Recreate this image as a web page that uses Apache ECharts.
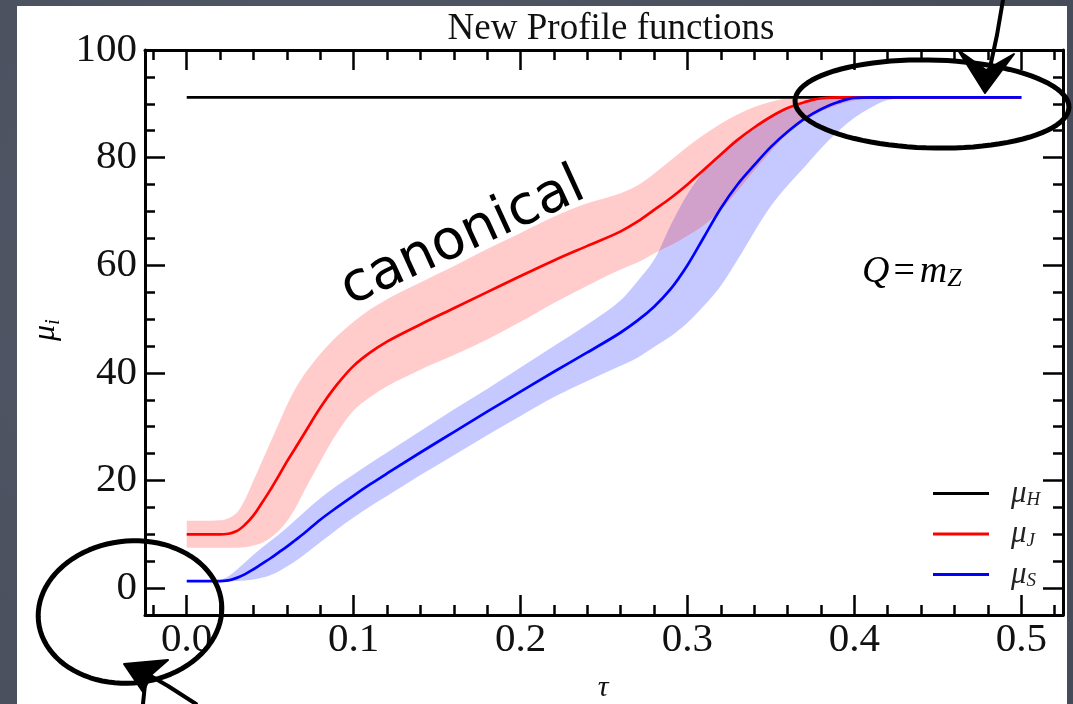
<!DOCTYPE html>
<html>
<head>
<meta charset="utf-8">
<script src="https://cdn.jsdelivr.net/npm/echarts@6/dist/echarts.min.js"></script>
<style>
  html, body { margin: 0; padding: 0; width: 1073px; height: 704px; overflow: hidden;
    background: radial-gradient(circle at 30% 40%, #535a69 0%, #4a505e 60%, #454b58 100%); }
  #sheet { position: absolute; left: 17px; top: 6px; width: 1050px; height: 698px; background: #fff; }
  #chart { position: absolute; left: 0; top: 0; width: 1073px; height: 704px; }
</style>
</head>
<body>
<div id="sheet"></div>
<div id="chart"></div>
<script>
// Profile scales mu_i(tau) at Q = m_Z: central curves with their variation bands.

// mu_H : hard scale, constant
const tauHard = [0, 0.5];
const muHard = [91.19, 91.19];

// mu_J : jet scale (band lower edge, central curve, band upper edge)
const tauJet = [0, 0.01, 0.02, 0.025, 0.03, 0.035, 0.04, 0.045, 0.05, 0.055, 0.06, 0.065, 0.07, 0.08, 0.09,
  0.1, 0.11, 0.12, 0.14, 0.16, 0.18, 0.2, 0.22, 0.24, 0.26, 0.27, 0.28, 0.29, 0.3, 0.31, 0.32, 0.33,
  0.34, 0.35, 0.36, 0.37, 0.38, 0.39, 0.4, 0.41, 0.42, 0.5];
const jetLow = [7.5, 7.5, 7.5, 7.5, 7.5, 7.6, 7.9, 8.4, 9.3, 10.6, 12.4, 14.8, 17.8, 23.5, 28.8,
  33.0, 35.5, 37.5, 40.6, 43.3, 46.2, 49.5, 53.0, 56.2, 59.2, 60.5, 62.2, 63.7, 65.5, 67.5, 70.3, 73.8,
  77.6, 81.2, 84.5, 86.8, 88.6, 89.8, 90.6, 91.1, 91.19, 91.19];
const jetMid = [10.0, 10.0, 10.0, 10.1, 10.6, 11.8, 13.5, 15.8, 18.2, 20.8, 23.5, 26.0, 28.5, 33.5, 37.8,
  41.3, 43.8, 45.8, 49.0, 52.0, 55.0, 58.0, 60.9, 63.6, 66.3, 68.1, 70.3, 72.5, 75.0, 77.8, 80.6, 83.3,
  85.6, 87.6, 89.2, 90.3, 91.0, 91.19, 91.19, 91.19, 91.19, 91.19];
const jetHigh = [12.5, 12.5, 12.6, 13.0, 14.0, 16.5, 20.0, 23.5, 27.0, 30.5, 34.0, 37.0, 39.5, 43.5, 46.8,
  49.5, 51.8, 53.7, 56.8, 59.8, 63.0, 66.0, 69.0, 71.5, 73.4, 74.8, 77.0, 79.5, 82.0, 84.3, 86.3, 88.0,
  89.4, 90.4, 91.0, 91.19, 91.19, 91.19, 91.19, 91.19, 91.19, 91.19];

// mu_S : soft scale
const tauSoft = [0, 0.01, 0.02, 0.025, 0.03, 0.035, 0.04, 0.045, 0.05, 0.055, 0.06, 0.065, 0.07, 0.08, 0.09,
  0.1, 0.11, 0.12, 0.14, 0.16, 0.18, 0.2, 0.22, 0.24, 0.26, 0.27, 0.28, 0.29, 0.3, 0.31, 0.32, 0.33,
  0.34, 0.35, 0.36, 0.37, 0.38, 0.39, 0.4, 0.41, 0.42, 0.43, 0.44, 0.5];
const softLow = [1.3, 1.3, 1.3, 1.3, 1.3, 1.4, 1.6, 1.9, 2.4, 3.1, 4.0, 5.0, 6.1, 8.5, 10.9,
  13.1, 15.2, 17.1, 21.0, 24.7, 28.4, 32.0, 35.5, 38.5, 41.3, 42.8, 44.8, 46.8, 49.3, 52.5, 56.2, 61.0,
  66.2, 71.0, 74.8, 78.2, 81.7, 84.8, 87.4, 89.3, 90.7, 91.1, 91.19, 91.19];
const softMid = [1.3, 1.3, 1.3, 1.45, 1.9, 2.6, 3.5, 4.5, 5.5, 6.6, 7.7, 8.9, 10.1, 12.7, 15.0,
  17.2, 19.3, 21.3, 25.2, 29.0, 32.8, 36.5, 40.2, 43.8, 47.5, 49.7, 52.3, 55.6, 60.0, 65.3, 70.6, 75.0,
  78.6, 82.0, 84.8, 87.2, 89.0, 90.3, 91.1, 91.19, 91.19, 91.19, 91.19, 91.19];
const softHigh = [1.3, 1.3, 1.5, 2.2, 3.4, 4.8, 6.2, 7.5, 8.7, 9.9, 11.2, 12.6, 14.0, 16.7, 19.0,
  21.1, 23.2, 25.2, 29.2, 33.2, 37.0, 41.0, 45.0, 49.0, 53.5, 57.0, 61.0, 67.5, 73.2, 77.5, 80.5, 83.2,
  85.6, 87.6, 89.0, 90.1, 90.8, 91.19, 91.19, 91.19, 91.19, 91.19, 91.19, 91.19];

// axis ticks
const xMajor = [0, 0.1, 0.2, 0.3, 0.4, 0.5];
const xMajorLabels = ['0.0', '0.1', '0.2', '0.3', '0.4', '0.5'];
const yMajor = [0, 20, 40, 60, 80, 100];
const yMajorLabels = ['0', '20', '40', '60', '80', '100'];
const xMinor = [];
for (let i = -1; i <= 26; i++) if (i % 5 !== 0) xMinor.push(+(i * 0.02).toFixed(2));
const yMinor = [];
for (let v = 5; v < 100; v += 5) if (v % 20 !== 0) yMinor.push(v);

const pairs = (xs, ys) => xs.map((x, i) => [x, ys[i]]);
const SERIF = '"Liberation Serif", "DejaVu Serif", serif';
const INK = '#111';

// Monotone cubic (Fritsch-Carlson) Bezier segments through pixel points with increasing x.
function monoSegments(p) {
  const n = p.length, d = [], h = [], m = new Array(n);
  for (let i = 0; i < n - 1; i++) {
    h[i] = p[i + 1][0] - p[i][0];
    d[i] = (p[i + 1][1] - p[i][1]) / h[i];
  }
  m[0] = d[0]; m[n - 1] = d[n - 2];
  for (let i = 1; i < n - 1; i++) {
    if (d[i - 1] * d[i] <= 0) { m[i] = 0; continue; }
    const w1 = 2 * h[i] + h[i - 1], w2 = h[i] + 2 * h[i - 1];
    m[i] = (w1 + w2) / (w1 / d[i - 1] + w2 / d[i]);
  }
  const segs = [];
  for (let i = 0; i < n - 1; i++) {
    segs.push({
      a: p[i], b: p[i + 1],
      c1: [p[i][0] + h[i] / 3, p[i][1] + m[i] * h[i] / 3],
      c2: [p[i + 1][0] - h[i] / 3, p[i + 1][1] - m[i + 1] * h[i] / 3]
    });
  }
  return segs;
}
const f = v => v.toFixed(2);
function forwardPath(p, cmd) {
  let s = cmd + f(p[0][0]) + ' ' + f(p[0][1]);
  for (const g of monoSegments(p)) s += ' C' + f(g.c1[0]) + ' ' + f(g.c1[1]) + ' ' + f(g.c2[0]) + ' ' + f(g.c2[1]) + ' ' + f(g.b[0]) + ' ' + f(g.b[1]);
  return s;
}
function backwardPath(p) {
  const segs = monoSegments(p);
  let s = ' L' + f(p[p.length - 1][0]) + ' ' + f(p[p.length - 1][1]);
  for (let i = segs.length - 1; i >= 0; i--) {
    const g = segs[i];
    s += ' C' + f(g.c2[0]) + ' ' + f(g.c2[1]) + ' ' + f(g.c1[0]) + ' ' + f(g.c1[1]) + ' ' + f(g.a[0]) + ' ' + f(g.a[1]);
  }
  return s;
}

function band(id, xs, lo, hi, color) {
  return {
    type: 'custom', name: id, silent: true, z: 1, clip: false,
    data: pairs(xs, lo),
    renderItem: (params, api) => {
      if (params.dataIndex !== 0) return null;
      const up = xs.map((x, i) => api.coord([x, hi[i]]));
      const dn = xs.map((x, i) => api.coord([x, lo[i]]));
      return { type: 'path', shape: { pathData: forwardPath(up, 'M') + backwardPath(dn) + ' Z' },
        style: { fill: color, stroke: null } };
    }
  };
}
function curve(name, xs, ys, color) {
  return {
    type: 'custom', name: name, z: 3, clip: false, itemStyle: { color: color },
    data: pairs(xs, ys),
    renderItem: (params, api) => {
      if (params.dataIndex !== 0) return null;
      const pts = xs.map((x, i) => api.coord([x, ys[i]]));
      return { type: 'path', shape: { pathData: forwardPath(pts, 'M') },
        style: { fill: 'none', stroke: color, lineWidth: 2.7, lineJoin: 'round' } };
    }
  };
}

const X_RANGE = { min: -0.025, max: 0.525 };
const Y_RANGE = { min: -5, max: 100 };
const frame = { show: true, onZero: false, lineStyle: { color: '#000', width: 3 } };
const hidden = { show: false, onZero: false };

function xAxisPair(pos, withLabels) {
  return [
    Object.assign({ type: 'value', position: pos, axisLine: frame, splitLine: { show: false },
      axisTick: { show: true, inside: true, length: 20, customValues: xMajor, lineStyle: { color: '#000', width: 2.5 } },
      axisLabel: withLabels ? { show: true, customValues: xMajor, margin: 5,
        formatter: v => xMajorLabels[xMajor.findIndex(t => Math.abs(t - v) < 1e-9)] ?? '',
        fontFamily: SERIF, fontSize: 41, color: INK } : { show: false } }, X_RANGE),
    Object.assign({ type: 'value', position: pos, axisLine: hidden, splitLine: { show: false },
      axisTick: { show: true, inside: true, length: 10, customValues: xMinor, lineStyle: { color: '#000', width: 2.5 } },
      axisLabel: { show: false } }, X_RANGE)
  ];
}
function yAxisPair(pos, withLabels) {
  return [
    Object.assign({ type: 'value', position: pos, axisLine: frame, splitLine: { show: false },
      axisTick: { show: true, inside: true, length: 20, customValues: yMajor, lineStyle: { color: '#000', width: 2.5 } },
      axisLabel: withLabels ? { show: true, customValues: yMajor, margin: 8,
        formatter: v => yMajorLabels[yMajor.indexOf(v)] ?? '',
        fontFamily: SERIF, fontSize: 41, color: INK } : { show: false } }, Y_RANGE),
    Object.assign({ type: 'value', position: pos, axisLine: hidden, splitLine: { show: false },
      axisTick: { show: true, inside: true, length: 10, customValues: yMinor, lineStyle: { color: '#000', width: 2.5 } },
      axisLabel: { show: false } }, Y_RANGE)
  ];
}

function ellipsePoints(cx, cy, rx, ry, tilt) {
  const pts = [];
  for (let k = 0; k < 90; k++) {
    const t = k / 90 * Math.PI * 2;
    const ex = rx * Math.cos(t), ey = ry * Math.sin(t);
    pts.push([cx + ex * Math.cos(tilt) - ey * Math.sin(tilt), cy + ex * Math.sin(tilt) + ey * Math.cos(tilt)]);
  }
  return pts;
}
const pen = { stroke: '#000', lineWidth: 5, fill: 'rgba(0,0,0,0)', lineJoin: 'round', lineCap: 'round' };
const subRich = {
  m: { fontFamily: SERIF, fontStyle: 'italic', fontSize: 32, color: INK, lineHeight: 36 },
  s: { fontFamily: SERIF, fontStyle: 'italic', fontSize: 21, color: INK, lineHeight: 18, verticalAlign: 'bottom' }
};

const chart = echarts.init(document.getElementById('chart'), null, { renderer: 'canvas' });
chart.setOption({
  animation: false,
  title: { text: 'New Profile functions', left: 606, textAlign: 'center', top: 6,
    textStyle: { fontFamily: SERIF, fontSize: 37, fontWeight: 'normal', color: INK } },
  grid: { left: 145, right: 10, top: 50, bottom: 89, containLabel: false },
  xAxis: [...xAxisPair('bottom', true), ...xAxisPair('top', false)],
  yAxis: [...yAxisPair('left', true), ...yAxisPair('right', false)],
  legend: {
    orient: 'vertical', left: 928, top: 473, itemWidth: 56, itemHeight: 3, itemGap: 9,
    data: [{ name: 'muH', icon: 'rect' }, { name: 'muJ', icon: 'rect' }, { name: 'muS', icon: 'rect' }],
    formatter: name => '{m|μ}{s|' + { muH: 'H', muJ: 'J', muS: 'S' }[name] + '}',
    textStyle: { fontSize: 30, rich: {
      m: { fontFamily: SERIF, fontStyle: 'italic', fontSize: 31, color: '#222', lineHeight: 32, padding: [0, 0, 0, 17] },
      s: { fontFamily: SERIF, fontStyle: 'italic', fontSize: 19, color: '#222', lineHeight: 15, verticalAlign: 'bottom' }
    } }
  },
  series: [
    band('softBand', tauSoft, softLow, softHigh, 'rgba(40,55,255,0.27)'),
    band('jetBand', tauJet, jetLow, jetHigh, 'rgba(255,20,20,0.22)'),
    curve('muH', tauHard, muHard, '#000000'),
    curve('muJ', tauJet, jetMid, '#ff0000'),
    curve('muS', tauSoft, softMid, '#0000ff')
  ],
  graphic: [
    { type: 'text', x: 46, y: 330, rotation: Math.PI / 2,
      style: { text: '{m|μ}{s|i}', rich: subRich, align: 'center', verticalAlign: 'middle' } },
    { type: 'text', x: 603, y: 688,
      style: { text: 'τ', font: 'italic 30px ' + SERIF, fill: INK, align: 'center', verticalAlign: 'middle' } },
    { type: 'text', x: 862, y: 272,
      style: { text: '{m|Q}{e|=}{m|m}{s|Z}', align: 'left', verticalAlign: 'middle', rich: {
        m: { fontFamily: SERIF, fontStyle: 'italic', fontSize: 38, color: INK, lineHeight: 40 },
        e: { fontFamily: SERIF, fontSize: 38, color: INK, lineHeight: 40, padding: [0, 5, 0, 4] },
        s: { fontFamily: SERIF, fontStyle: 'italic', fontSize: 26, color: INK, lineHeight: 20, verticalAlign: 'bottom' }
      } } },
    // hand-written remark and circles
    { type: 'text', x: 463, y: 238, rotation: 0.43, z: 100,
      style: { text: 'canonical', font: '55px "DejaVu Sans", sans-serif', fill: '#000', align: 'center', verticalAlign: 'middle' } },
    { type: 'polygon', z: 100, shape: { points: ellipsePoints(932, 104, 137, 44, 0.025) }, style: pen },
    { type: 'polygon', z: 100, shape: { points: ellipsePoints(130, 612, 92, 71, -0.1) }, style: pen },
    { type: 'polyline', z: 100, shape: { points: [[1003, 0], [997, 35], [986, 86]] }, style: Object.assign({}, pen, { lineWidth: 4 }) },
    { type: 'polygon', z: 100, shape: { points: [[958, 50], [985, 93], [1014, 54], [986, 70]] },
      style: { fill: '#000', stroke: '#000', lineWidth: 2, lineJoin: 'round' } },
    { type: 'polyline', z: 100, shape: { points: [[196, 704], [168, 686], [142, 671]] }, style: Object.assign({}, pen, { lineWidth: 4 }) },
    { type: 'polyline', z: 100, shape: { points: [[143, 704], [145, 684]] }, style: Object.assign({}, pen, { lineWidth: 4 }) },
    { type: 'polygon', z: 100, shape: { points: [[124, 664], [168, 660], [152, 674], [143, 692]] },
      style: { fill: '#000', stroke: '#000', lineWidth: 2, lineJoin: 'round' } }
  ]
});
</script>
</body>
</html>
